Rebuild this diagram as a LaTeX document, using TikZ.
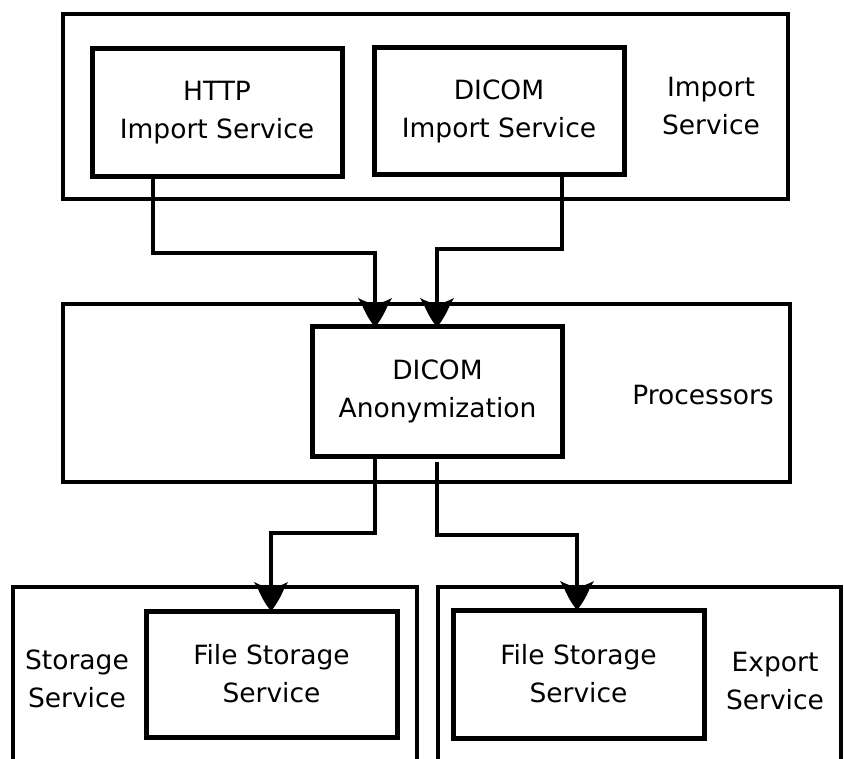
\documentclass[tikz,border=0pt]{standalone}
\usepackage{fontspec}
\setmainfont{DejaVu Sans}
\usetikzlibrary{arrows.meta,calc}

\pgfdeclarearrow{
  name=Spade,
  setup code={
    \pgfarrowssettipend{0pt}
    \pgfarrowssetlineend{-14pt}
    \pgfarrowssetvisualbackend{-26pt}
    \pgfarrowsupperhullpoint{-29pt}{17pt}
    \pgfarrowsupperhullpoint{0pt}{0pt}
  },
  drawing code={
    \pgfpathmoveto{\pgfpointorigin}
    \pgfpathcurveto{\pgfpoint{-7pt}{6pt}}{\pgfpoint{-16pt}{10.5pt}}{\pgfpoint{-21pt}{12.5pt}}
    \pgfpathcurveto{\pgfpoint{-24pt}{14pt}}{\pgfpoint{-27pt}{16pt}}{\pgfpoint{-29pt}{17pt}}
    \pgfpathcurveto{\pgfpoint{-26pt}{12pt}}{\pgfpoint{-25pt}{6pt}}{\pgfpoint{-22pt}{2pt}}
    \pgfpathlineto{\pgfpoint{-22pt}{-2pt}}
    \pgfpathcurveto{\pgfpoint{-25pt}{-6pt}}{\pgfpoint{-26pt}{-12pt}}{\pgfpoint{-29pt}{-17pt}}
    \pgfpathcurveto{\pgfpoint{-27pt}{-16pt}}{\pgfpoint{-24pt}{-14pt}}{\pgfpoint{-21pt}{-12.5pt}}
    \pgfpathcurveto{\pgfpoint{-16pt}{-10.5pt}}{\pgfpoint{-7pt}{-6pt}}{\pgfpointorigin}
    \pgfpathclose
    \pgfusepathqfill
  }
}

\begin{document}
\begin{tikzpicture}[x=1pt,y=-1pt,
  every node/.style={font=\fontsize{26.5}{38}\selectfont},
  outerbox/.style={draw, line width=4.2pt, inner sep=0pt, outer sep=0pt},
  innerbox/.style={draw, line width=5pt, align=center, inner sep=0pt, outer sep=0pt},
  lbl/.style={align=center, inner sep=0pt},
  conn/.style={line width=4pt, -{Spade}}]

\useasboundingbox (0,0) rectangle (844,759);
\clip (0,0) rectangle (844,759);

% container boxes
\node[outerbox, minimum width=725pt, minimum height=185pt] (imp)  at (425.5,106.5) {};
\node[outerbox, minimum width=727pt, minimum height=178pt] (proc) at (426.5,393) {};
\node[outerbox, minimum width=404pt, minimum height=213pt] (stor) at (215,693.5) {};
\node[outerbox, minimum width=403pt, minimum height=213pt] (expo) at (639.5,693.5) {};

% inner boxes
\node[innerbox, minimum width=250pt, minimum height=128pt] (http) at (217,113) {HTTP\\Import Service};
\node[innerbox, minimum width=250pt, minimum height=127pt] (dimp) at (499,111.5) {DICOM\\Import Service};
\node[innerbox, minimum width=250pt, minimum height=129pt] (anon) at (437.5,391.5) {DICOM\\Anonymization};
\node[innerbox, minimum width=251pt, minimum height=126pt] (fsl)  at (271.5,674) {File Storage\\Service};
\node[innerbox, minimum width=251pt, minimum height=128pt] (fsr)  at (578.5,674) {File Storage\\Service};

% container labels
\node[lbl] (impl)  at (711,106) {Import\\Service};
\node[lbl] (procl) at (703,395) {Processors};
\node[lbl] (storl) at (77,679)  {Storage\\Service};
\node[lbl] (expol) at (775,681) {Export\\Service};

% connectors
\draw[conn] ($(http.south west)+(61,0)$) -- ++(0,76) -| ($(anon.north west)+(62.5,0)$);
\draw[conn] ($(dimp.south west)+(188,0)$) -- ++(0,74) -| ($(anon.north west)+(124.5,0)$);
\draw[conn] ($(anon.south west)+(62.5,0)$) -- ++(0,77) -| ($(fsl.north west)+(125,0)$);
\draw[conn] ($(anon.south west)+(124,6)$) -- ++(0,73) -| ($(fsr.north west)+(124,0)$);
\end{tikzpicture}
\end{document}
